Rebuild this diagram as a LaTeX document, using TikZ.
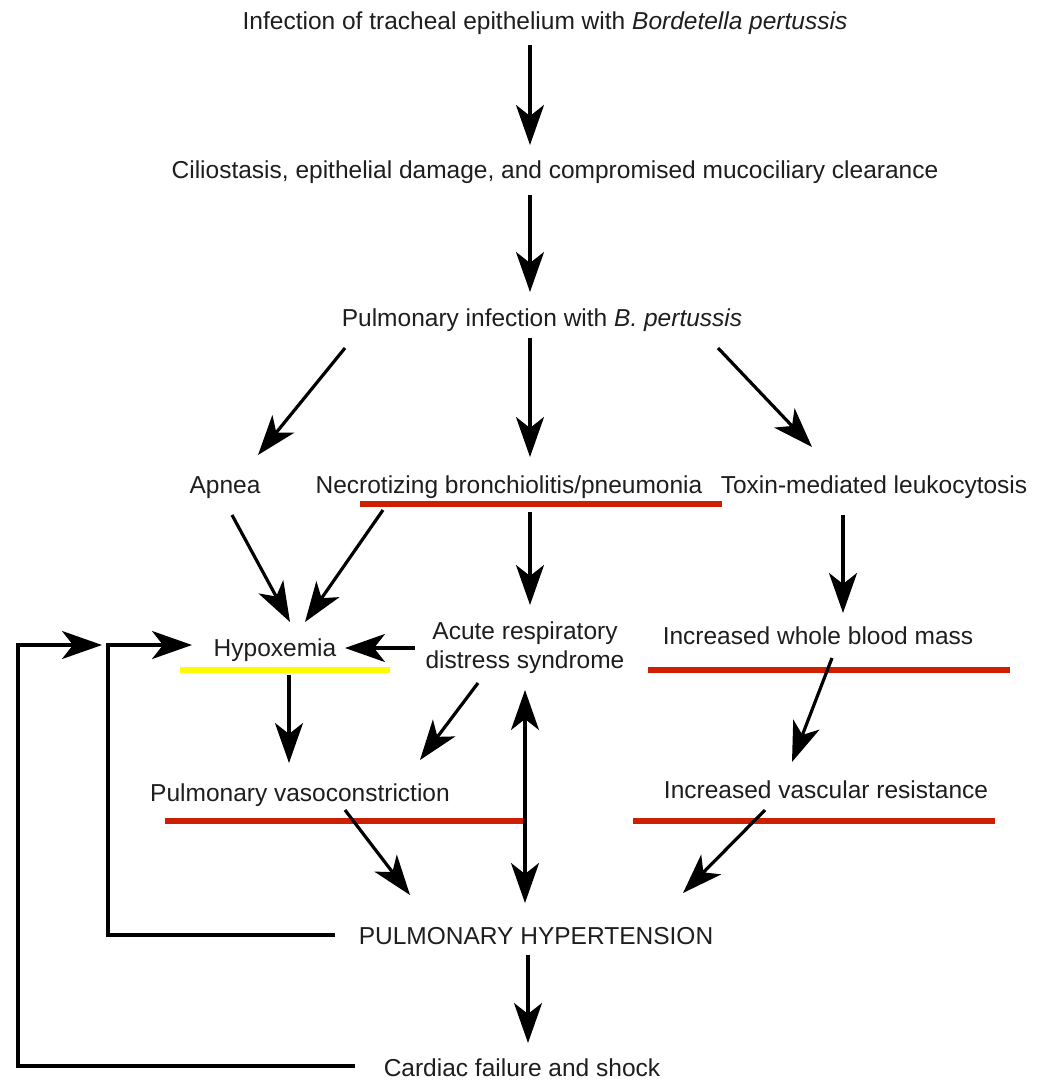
\documentclass[tikz,border=0pt]{standalone}
\usepackage{fontspec}
\setmainfont{Liberation Sans}
\usetikzlibrary{arrows.meta,calc}
\definecolor{txt}{RGB}{30,30,30}
\definecolor{redbar}{RGB}{206,32,0}
\definecolor{yelbar}{RGB}{255,250,0}
\begin{document}
\begin{tikzpicture}[x=1pt,y=-1pt,
  lbl/.style={inner sep=0pt,anchor=base,text=txt,font=\fontsize{24.5}{30}\selectfont},
  tip/.style={Stealth[length=40pt,width=28pt,inset=11pt]},
  arr/.style={line width=3.2pt,-{Stealth[length=40pt,width=28pt,inset=11pt]}},
  darr/.style={line width=3.2pt,{Stealth[length=40pt,width=28pt,inset=11pt]}-{Stealth[length=40pt,width=28pt,inset=11pt]}},
  bar/.style={line width=6pt}]
\useasboundingbox[fill=white] (0,0) rectangle (1038,1082);

\node[lbl] (inf) at (545,29) {Infection of tracheal epithelium with \textit{Bordetella pertussis}};
\node[lbl] (cil) at (555,178) {Ciliostasis, epithelial damage, and compromised mucociliary clearance};
\node[lbl] (pinf) at (542,326) {Pulmonary infection with \textit{B. pertussis}};
\node[lbl] (apnea) at (225,493) {Apnea};
\node[lbl] (necro) at (509,493) {Necrotizing bronchiolitis/pneumonia};
\node[lbl] (toxin) at (874,493) {Toxin-mediated leukocytosis};
\node[lbl] (hypox) at (275,656) {Hypoxemia};
\node[inner sep=0pt,text=txt,font=\fontsize{24.5}{29}\selectfont,align=center] (ards) at (525,648) {Acute respiratory\\distress syndrome};
\node[lbl] (iwbm) at (818,644) {Increased whole blood mass};
\node[lbl] (pv) at (300,801) {Pulmonary vasoconstriction};
\node[lbl] (ivr) at (826,798) {Increased vascular resistance};
\node[lbl] (ph) at (536,944) {PULMONARY HYPERTENSION};
\node[lbl] (card) at (522,1076) {Cardiac failure and shock};

% colour bars
\draw[bar,redbar] ($(necro.base)+(-149,11)$) -- ($(necro.base)+(213,11)$);
\draw[bar,yelbar] ($(hypox.base)+(-95,14)$) -- ($(hypox.base)+(115,14)$);
\draw[bar,redbar] ($(iwbm.base)+(-170,26)$) -- ($(iwbm.base)+(192,26)$);
\draw[bar,redbar] ($(pv.base)+(-135,20)$) -- ($(pv.base)+(227,20)$);
\draw[bar,redbar] ($(ivr.base)+(-193,23)$) -- ($(ivr.base)+(169,23)$);

% arrows
\draw[arr] ($(inf.base)+(-15,16)$) -- ($(cil.base)+(-25,-33)$);
\draw[arr] ($(cil.base)+(-25,17)$) -- ($(pinf.base)+(-12,-34)$);
\draw[arr] ($(pinf.base)+(-197,22)$) -- ($(apnea.base)+(33,-38)$);
\draw[arr] ($(pinf.base)+(-12,12)$) -- ($(necro.base)+(21,-36)$);
\draw[arr] ($(pinf.base)+(176,22)$) -- ($(toxin.base)+(-62,-46)$);
\draw[arr] ($(apnea.base)+(7,22)$) -- ($(hypox.base)+(15,-34)$);
\draw[arr] ($(necro.base)+(-126,17)$) -- ($(hypox.base)+(30,-34)$);
\draw[arr] ($(necro.base)+(21,19)$) -- ($(ards.center)+(5,-43)$);
\draw[arr] ($(toxin.base)+(-31,22)$) -- ($(iwbm.base)+(25,-31)$);
\draw[arr] ($(ards.center)+(-110,0)$) -- ($(hypox.base)+(70,-8)$);
\draw[arr] ($(hypox.base)+(14,19)$) -- ($(pv.base)+(-11,-38)$);
\draw[arr] ($(ards.center)+(-47,35)$) -- ($(pv.base)+(120,-41)$);
\draw[arr] ($(iwbm.base)+(14,14)$) -- ($(ivr.base)+(-34,-36)$);
\draw[arr] ($(pv.base)+(45,9)$) -- ($(ph.base)+(-126,-49)$);
\draw[darr] ($(ards.center)+(0,42)$) -- ($(ph.base)+(-11,-41)$);
\draw[arr] ($(ivr.base)+(-61,12)$) -- ($(ph.base)+(147,-51)$);
\draw[arr] ($(ph.base)+(-8,11)$) -- ($(card.base)+(6,-33)$);

% feedback loops
\draw[arr] ($(ph.base)+(-201,-9)$) -- ++(-227,0) |- ($(hypox.base)+(-83,-11)$);
\draw[arr] ($(card.base)+(-167,-10)$) -- ++(-337,0) |- ($(hypox.base)+(-173,-11)$);
\end{tikzpicture}
\end{document}
